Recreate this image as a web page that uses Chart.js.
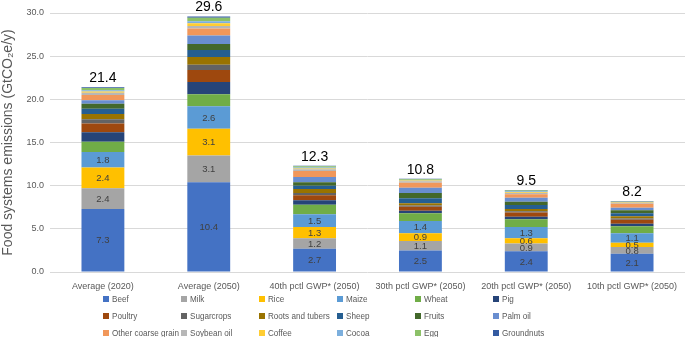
<!DOCTYPE html>
<html>
<head>
<meta charset="utf-8">
<script src="https://cdn.jsdelivr.net/npm/chart.js@4.4.1/dist/chart.umd.min.js"></script>
<style>
  html, body { margin: 0; padding: 0; background: #fff; }
  #wrap { position: relative; width: 685px; height: 337px; font-family: "Liberation Sans", Arial, sans-serif; }
  #legend { position: absolute; left: 103px; top: 290px; display: grid; grid-template-columns: repeat(6, 78px); grid-auto-rows: 17px; font-size: 9px; color: #595959; }
  .li { display: flex; align-items: center; white-space: nowrap; }
  .sw { width: 6px; height: 6px; margin-right: 3px; flex: none; }
  .tx { display: inline-block; transform: scaleX(0.9); transform-origin: left center; }
</style>
</head>
<body>
<div id="wrap">
  <canvas id="c" width="685" height="337"></canvas>
  <div id="legend"></div>
</div>
<script>
// Categories (x axis)
const categories = ["Average (2020)", "Average (2050)", "40th pctl GWP* (2050)", "30th pctl GWP* (2050)", "20th pctl GWP* (2050)", "10th pctl GWP* (2050)"];

// Series values (GtCO2e/y), bottom to top of each stack
const beef        = [7.3, 10.4, 2.7, 2.5, 2.4, 2.1];
const milk        = [2.4, 3.1, 1.2, 1.1, 0.9, 0.8];
const rice        = [2.4, 3.1, 1.3, 0.9, 0.6, 0.5];
const maize       = [1.8, 2.6, 1.5, 1.4, 1.3, 1.1];
const wheat       = [1.2, 1.4, 1.1, 0.9, 0.9, 0.8];
const pig         = [1.1, 1.4, 0.5, 0.3, 0.3, 0.3];
const poultry     = [1.0, 1.4, 0.6, 0.45, 0.5, 0.45];
const sugarcrops  = [0.5, 0.6, 0.25, 0.15, 0.15, 0.15];
const roots       = [0.6, 0.9, 0.45, 0.25, 0.25, 0.25];
const sheep       = [0.6, 0.8, 0.4, 0.6, 0.45, 0.35];
const fruits      = [0.6, 0.7, 0.4, 0.6, 0.4, 0.35];
const palmOil     = [0.4, 1.0, 0.6, 0.6, 0.45, 0.3];
const otherCoarse = [0.6, 0.8, 0.7, 0.6, 0.4, 0.45];
const soybeanOil  = [0.25, 0.3, 0.2, 0.15, 0.15, 0.1];
const coffee      = [0.15, 0.3, 0.1, 0.1, 0.1, 0.05];
const cocoa       = [0.15, 0.25, 0.1, 0.05, 0.1, 0.05];
const egg         = [0.25, 0.4, 0.15, 0.1, 0.1, 0.05];
const groundnuts  = [0.1, 0.15, 0.05, 0.05, 0.05, 0.05];

// Total labels shown above each bar
const totals = [21.4, 29.6, 12.3, 10.8, 9.5, 8.2];

// Y tick values
const yTicks = [0, 5, 10, 15, 20, 25, 30];

const seriesNames = ["Beef", "Milk", "Rice", "Maize", "Wheat", "Pig", "Poultry", "Sugarcrops", "Roots and tubers", "Sheep", "Fruits", "Palm oil", "Other coarse grain", "Soybean oil", "Coffee", "Cocoa", "Egg", "Groundnuts"];
const seriesValues = [beef, milk, rice, maize, wheat, pig, poultry, sugarcrops, roots, sheep, fruits, palmOil, otherCoarse, soybeanOil, coffee, cocoa, egg, groundnuts];
const seriesColors = ["#4472C4", "#A5A5A5", "#FFC000", "#5B9BD5", "#70AD47", "#264478", "#9E480E", "#636363", "#997300", "#255E91", "#43682B", "#698ED0", "#F1975A", "#B7B7B7", "#FFCD33", "#7CAFDD", "#8CC168", "#335AA1"];
const labelledSeries = 4; // Beef, Milk, Rice, Maize carry value labels

const datasets = seriesNames.map((n, i) => ({
  label: n,
  data: seriesValues[i],
  backgroundColor: seriesColors[i],
  borderWidth: 0,
  categoryPercentage: 1.0,
  barPercentage: 0.405,
  stack: "s"
}));

const labelPlugin = {
  id: "labels",
  afterDatasetsDraw(chart) {
    const ctx = chart.ctx;
    ctx.save();
    ctx.textAlign = "center";
    ctx.textBaseline = "middle";
    ctx.font = "9.5px 'Liberation Sans', Arial, sans-serif";
    ctx.fillStyle = "#404040";
    for (let i = 0; i < labelledSeries; i++) {
      const meta = chart.getDatasetMeta(i);
      meta.data.forEach((bar, j) => {
        const p = bar.getProps(["x", "y", "base"], true);
        ctx.fillText(seriesValues[i][j].toFixed(1), p.x, (p.y + p.base) / 2 + 0.5);
      });
    }
    const last = chart.getDatasetMeta(seriesNames.length - 1);
    ctx.font = "14px 'Liberation Sans', Arial, sans-serif";
    ctx.fillStyle = "#000000";
    ctx.textBaseline = "alphabetic";
    last.data.forEach((bar, j) => {
      const p = bar.getProps(["x", "y"], true);
      ctx.fillText(totals[j].toFixed(1), p.x, p.y - 5);
    });
    ctx.restore();
  }
};

new Chart(document.getElementById("c"), {
  type: "bar",
  data: { labels: categories, datasets },
  plugins: [labelPlugin],
  options: {
    responsive: false,
    animation: false,
    devicePixelRatio: 1,
    layout: { padding: { top: 13, bottom: 43, left: 0, right: 0 } },
    plugins: { legend: { display: false }, tooltip: { enabled: false } },
    scales: {
      x: {
        stacked: true,
        grid: { display: false },
        border: { display: false },
        ticks: { color: "#595959", font: { size: 9, family: "'Liberation Sans', Arial, sans-serif" }, maxRotation: 0, autoSkip: false, padding: 1 },
        afterFit(s) { s.height = 22; }
      },
      y: {
        stacked: true,
        min: 0, max: 30,
        afterBuildTicks(s) { s.ticks = yTicks.map(v => ({ value: v })); },
        grid: { color: "#D9D9D9", drawTicks: false },
        border: { display: false },
        ticks: { color: "#595959", font: { size: 9, family: "'Liberation Sans', Arial, sans-serif" }, padding: 6, callback: v => Number(v).toFixed(1) },
        title: { display: true, text: "Food systems emissions (GtCO₂e/y)", color: "#595959", font: { size: 14, family: "'Liberation Sans', Arial, sans-serif" }, padding: { top: 0, bottom: 2 } },
        afterFit(s) { s.width = 50; }
      }
    }
  }
});

const lg = document.getElementById("legend");
seriesNames.forEach((n, i) => {
  const d = document.createElement("div");
  d.className = "li";
  const sw = document.createElement("span");
  sw.className = "sw";
  sw.style.background = seriesColors[i];
  const tx = document.createElement("span");
  tx.className = "tx";
  tx.textContent = n;
  d.appendChild(sw);
  d.appendChild(tx);
  lg.appendChild(d);
});
</script>
</body>
</html>
